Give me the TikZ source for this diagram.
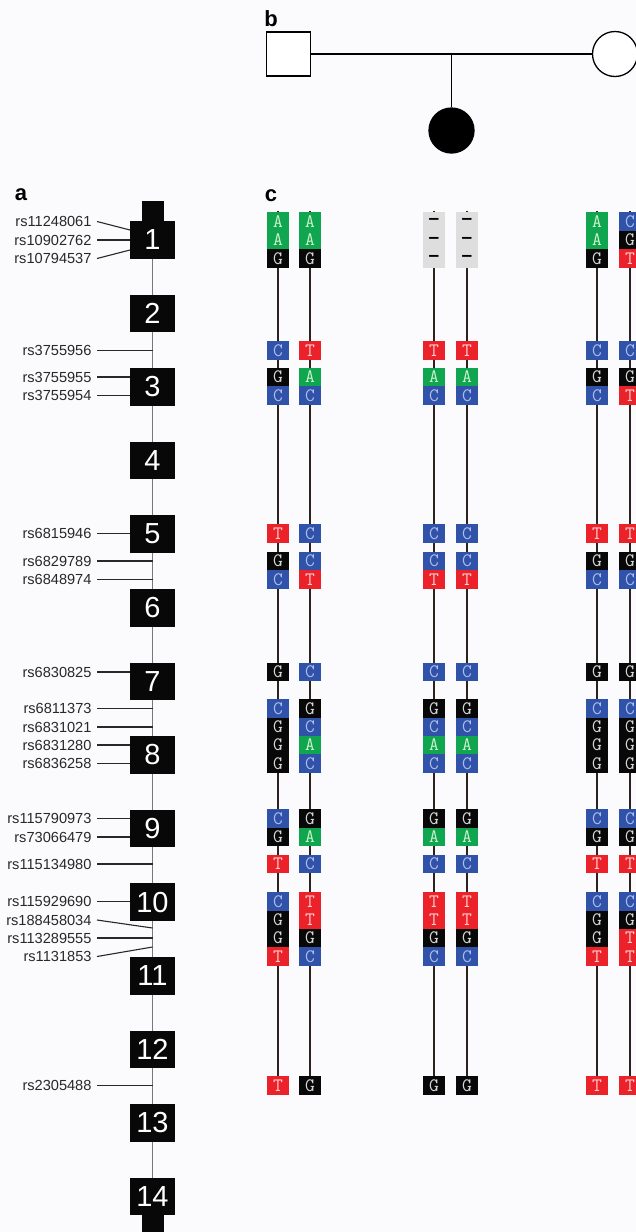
\documentclass[tikz,border=0pt]{standalone}
\usepackage{fontspec}
\setmainfont{Liberation Sans}
\usetikzlibrary{backgrounds}
\definecolor{bgc}{RGB}{251,251,253}
\definecolor{labc}{RGB}{40,40,40}
\definecolor{exgray}{RGB}{120,120,120}
\definecolor{hline}{RGB}{45,35,30}
\definecolor{gfill}{RGB}{16,166,80}
\definecolor{gtext}{RGB}{205,242,205}
\definecolor{kfill}{RGB}{8,8,8}
\definecolor{ktext}{RGB}{215,215,215}
\definecolor{cfill}{RGB}{48,82,168}
\definecolor{ctext}{RGB}{172,188,236}
\definecolor{tfill}{RGB}{236,34,42}
\definecolor{ttext}{RGB}{255,205,205}
\definecolor{nfill}{RGB}{222,222,222}
\def\hsA{A}\def\hsC{C}\def\hsG{G}\def\hsT{T}\def\hsN{\rmfamily\bfseries\textendash}
\def\ylist{{221.5,240,258.5,350.5,377,395.5,533.5,561,579.5,672,708.5,727,745,763.5,818.5,837,864,901.5,920,938,956.5,1085.5}}
\begin{document}
\begin{tikzpicture}[x=1pt,y=-1pt,
  hap/.style={rectangle,inner sep=0pt,minimum width=22pt,minimum height=18.5pt,font=\ttfamily\fontsize{19}{19}\selectfont},
  bA/.style={fill=gfill,text=gtext},
  bC/.style={fill=cfill,text=ctext},
  bG/.style={fill=kfill,text=ktext},
  bT/.style={fill=tfill,text=ttext},
  bN/.style={fill=nfill,text=black},
  hapline/.style={draw=hline,line width=1.5pt},
  exon/.style={rectangle,fill=kfill,inner sep=0pt,minimum width=45pt,minimum height=37.5pt,text=white,font=\fontsize{29}{29}\selectfont},
  exline/.style={draw=exgray,line width=1.2pt},
  rsl/.style={anchor=east,inner sep=0pt,outer xsep=5.5pt,text=labc,font=\fontsize{14.6}{16}\selectfont},
  lead/.style={draw=labc,line width=1.1pt},
  panel/.style={inner sep=0pt,font=\fontsize{22}{22}\selectfont\bfseries},
  ped/.style={draw=black,line width=1.3pt}
]
\useasboundingbox (0,0) rectangle (636,1232);
\begin{pgfonlayer}{background}
\fill[bgc] (0,0) rectangle (636,1232);
\end{pgfonlayer}

% panel letters
\node[panel] (pa) at (21,195) {a};
\node[panel] (pb) at (271,19) {b};
\node[panel] (pc) at (271,196) {c};

% pedigree
\node[ped,rectangle,minimum size=44pt,inner sep=0pt,fill=white] (father) at (288.5,54) {};
\node[ped,circle,minimum size=45pt,inner sep=0pt,fill=white] (mother) at (615,54) {};
\node[ped,circle,minimum size=45pt,inner sep=0pt,fill=black] (child) at (451.5,130.5) {};
\coordinate (mid) at (451.5,54);
\draw[ped] (father.east) -- (mother.west);
\draw[ped] (mid) -- (child.north);

% exons
\foreach \i in {1,...,14} {
  \pgfmathsetmacro\ey{221+73.6*(\i-1)+18.75}
  \node[exon] (e\i) at (152.5,\ey) {\i};
}
\node[exon,minimum width=22pt,minimum height=20pt,anchor=south] (e1t) at ([yshift=-0.5pt]e1.north) {};
\node[exon,minimum width=22pt,minimum height=20pt,anchor=north] (e14t) at ([yshift=0.5pt]e14.south) {};
\begin{pgfonlayer}{background}
\draw[exline] (e1.south) -- (e14.north);
\end{pgfonlayer}

% rs labels
\foreach \n [count=\i] in {rs11248061,rs10902762,rs10794537,rs3755956,rs3755955,rs3755954,rs6815946,rs6829789,rs6848974,rs6830825,rs6811373,rs6831021,rs6831280,rs6836258,rs115790973,rs73066479,rs115134980,rs115929690,rs188458034,rs113289555,rs1131853,rs2305488} {
  \pgfmathsetmacro\yy{\ylist[\i-1]}
  \node[rsl] (l\i) at (97,\yy) {\n};
}
\coordinate (t1) at (130,230);
\coordinate (t3) at (130,250);
\coordinate (t19) at (152.5,928);
\coordinate (t21) at (152.5,947);
\draw[lead] (l1.east) -- (t1);
\draw[lead] (l3.east) -- (t3);
\draw[lead] (l19.east) -- (t19);
\draw[lead] (l21.east) -- (t21);
\foreach \i in {2,5,6,7,10,13,14,15,16,18}
  \draw[lead] (l\i.east) -- (l\i.east -| e1.west);
\foreach \i in {4,8,9,11,12,17,20,22}
  \draw[lead] (l\i.east) -- (l\i.east -| e1.south);

% haplotypes
\foreach \c/\x/\al in {
  1/278/{A,A,G,C,G,C,T,G,C,G,C,G,G,G,C,G,T,C,G,G,T,T},
  2/310/{A,A,G,T,A,C,C,C,T,C,G,C,A,C,G,A,C,T,T,G,C,G},
  3/434/{N,N,N,T,A,C,C,C,T,C,G,C,A,C,G,A,C,T,T,G,C,G},
  4/467/{N,N,N,T,A,C,C,C,T,C,G,C,A,C,G,A,C,T,T,G,C,G},
  5/597/{A,A,G,C,G,C,T,G,C,G,C,G,G,G,C,G,T,C,G,G,T,T},
  6/630/{C,G,T,C,G,T,T,G,C,G,C,G,G,G,C,G,T,C,G,T,T,T}} {
  \foreach \a [count=\i] in \al {
    \pgfmathsetmacro\yy{\ylist[\i-1]}
    \node[hap,b\a] (h\c-\i) at (\x,\yy) {\csname hs\a\endcsname};
  }
}
\begin{pgfonlayer}{background}
\foreach \c in {1,...,6}
  \draw[hapline] ([yshift=1.5pt]h\c-1.north) -- (h\c-22.center);
\end{pgfonlayer}
\end{tikzpicture}
\end{document}
